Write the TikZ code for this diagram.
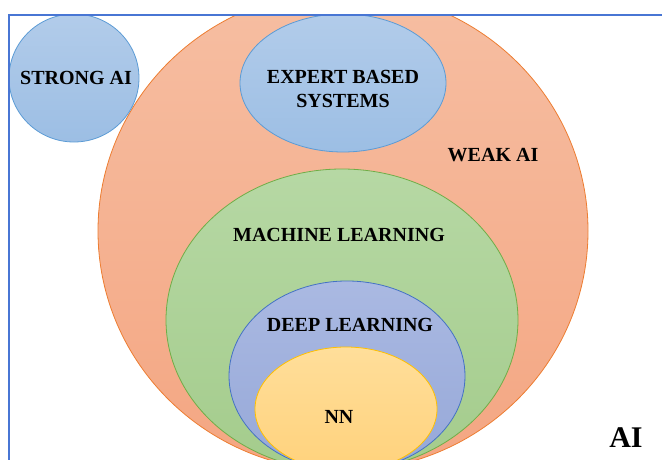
\documentclass[tikz,border=0pt]{standalone}
\usepackage{fontspec}
\setmainfont{Liberation Serif}
\usetikzlibrary{shapes.geometric}

%% fills and edges of the regions
\definecolor{orangetop}{RGB}{246,190,162}
\definecolor{orangebot}{RGB}{244,166,130}
\definecolor{orangeedge}{RGB}{237,125,49}
\definecolor{greentop}{RGB}{182,216,164}
\definecolor{greenbot}{RGB}{164,204,140}
\definecolor{greenedge}{RGB}{112,173,71}
\definecolor{bluetop}{RGB}{170,185,226}
\definecolor{bluebot}{RGB}{150,168,216}
\definecolor{blueedge}{RGB}{68,114,196}
\definecolor{yellowtop}{RGB}{255,222,154}
\definecolor{yellowbot}{RGB}{255,210,124}
\definecolor{yellowedge}{RGB}{255,192,0}
\definecolor{skytop}{RGB}{178,204,234}
\definecolor{skybot}{RGB}{156,190,228}
\definecolor{skyedge}{RGB}{91,155,213}
\definecolor{framecol}{RGB}{72,118,212}

\begin{document}
\begin{tikzpicture}[x=1pt,y=-1pt,
  region/.style={ellipse,inner sep=0pt,outer sep=0pt,line width=0.8pt,
    draw=#1edge,top color=#1top,bottom color=#1bot},
  lbl/.style={font=\fontsize{20}{24}\selectfont\bfseries,align=center,inner sep=0pt}]

\useasboundingbox (0,0) rectangle (662,460);

%% the sets, biggest first so the smaller ones sit on top
\begin{scope}
\clip (9,15) rectangle (662,460);
\foreach \nm/\cx/\cy/\rx/\ry/\col in {
  weakai/343/231/245/240/orange,
  expert/343/83/103/69/sky,
  strongai/74/78/65/64/sky,
  ml/342/320/176/151/green,
  dl/347/376/118/95/blue,
  nn/346/409/91/62/yellow}
{
  \node[region=\col,minimum width={2*\rx pt},minimum height={2*\ry pt}] (\nm) at (\cx,\cy) {};
}
\end{scope}

%% frame
\draw[framecol,line width=1.1pt] (9,460) -- (9,15) -- (662,15);

%% labels
\node[lbl] (lstrong) at (76,78) {STRONG AI};
\node[lbl] (lexpert) at (343,89) {EXPERT BASED\\SYSTEMS};
\node[lbl] (lweak) at (493,155) {WEAK AI};
\node[lbl] (lml) at (339,235) {MACHINE LEARNING};
\node[lbl] (ldl) at (350,325) {DEEP LEARNING};
\node[lbl] (lnn) at (339,417) {NN};
\node[lbl,font=\fontsize{30}{34}\selectfont\bfseries] (lai) at (626,438) {AI};
\end{tikzpicture}
\end{document}
